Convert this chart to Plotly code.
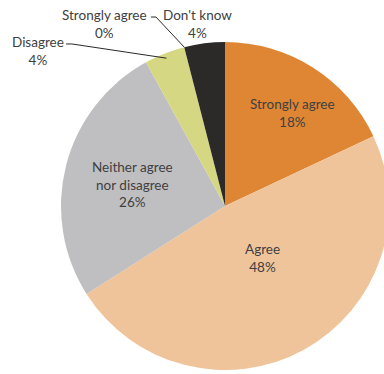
import math
import plotly.graph_objects as go

# Survey responses, clockwise from 12 o'clock
categories = ["Strongly agree", "Agree", "Neither agree nor disagree",
              "Disagree", "Strongly agree", "Don't know"]
shares = [18, 48, 26, 4, 0, 4]
colors = ["#DE8634", "#F0C49B", "#BFBFC1", "#D5D782", "#D5D782", "#2B2A29"]

W, H = 394, 374
CX, CY, R = 225, 206, 164  # pie centre and radius in pixels

fig = go.Figure(go.Pie(
    labels=[f"s{i}" for i in range(len(shares))],
    values=shares,
    sort=False,
    direction="clockwise",
    rotation=0,
    marker=dict(colors=colors, line=dict(width=0)),
    textinfo="none",
    hoverinfo="skip",
    showlegend=False,
    domain=dict(x=[(CX - R) / W, (CX + R) / W],
                y=[1 - (CY + R) / H, 1 - (CY - R) / H]),
))

FONT = dict(family="Lato, 'Open Sans', sans-serif", size=13.5, color="#404040")


def px(x, y):
    return x / W, 1 - y / H


def label(i):
    return categories[i].replace("agree nor", "agree<br>nor") + f"<br>{shares[i]}%"


def edge_point(frac, r=R):
    a = 2 * math.pi * frac
    return CX + r * math.sin(a), CY - r * math.cos(a)


# label anchor positions (pixels)
label_pos = {0: (292, 113), 1: (262, 258), 2: (132, 184),
             3: (38, 51), 4: (104, 24), 5: (198, 24)}

for i, (x, y) in label_pos.items():
    ax, ay = px(x, y)
    fig.add_annotation(x=ax, y=ay, xref="paper", yref="paper", text=label(i),
                       showarrow=False, font=FONT, align="center",
                       xanchor="center", yanchor="middle")

cum = [sum(shares[:k]) / 100 for k in range(len(shares) + 1)]

# leader line for "Disagree": from label to the slice middle
ex, ey = edge_point((cum[3] + cum[4]) / 2, R - 5)
pts = [(66, 44), (72, 44), (ex, ey)]
# leader line for the zero slice: to its position on the rim
zx, zy = edge_point(cum[4])
pts2 = [(151, 17), (156, 17), (zx, zy)]

for p in (pts, pts2):
    path = "M " + " L ".join(f"{px(x, y)[0]:.4f},{px(x, y)[1]:.4f}" for x, y in p)
    fig.add_shape(type="path", path=path, xref="paper", yref="paper",
                  line=dict(color="#2B2A29", width=1))

fig.update_layout(width=W, height=H, margin=dict(l=0, r=0, t=0, b=0, autoexpand=False),
                  paper_bgcolor="white", plot_bgcolor="white")

fig.write_html("out.html", config={"displayModeBar": False},
               post_script="document.documentElement.style.overflow='hidden';"
                           "document.body.style.overflow='hidden';")
